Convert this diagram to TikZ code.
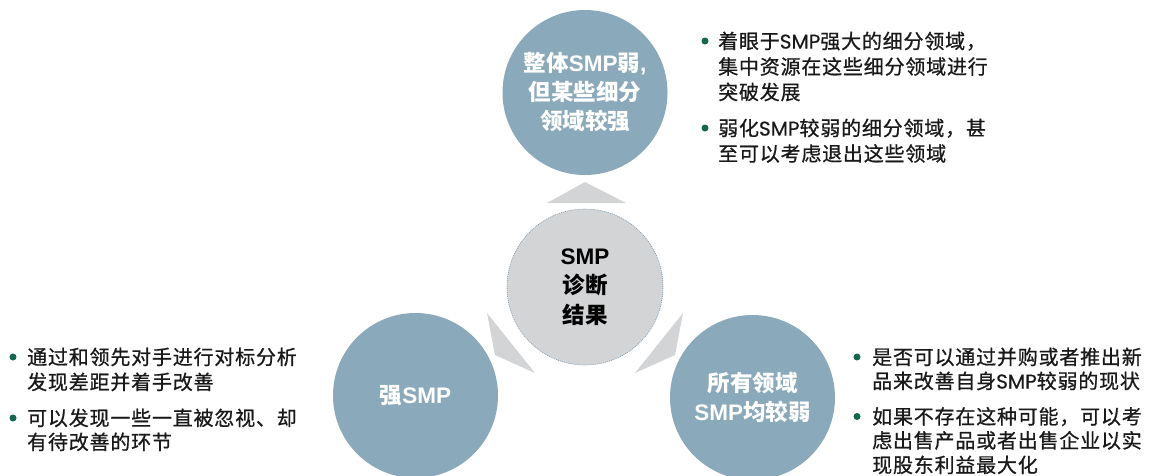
\documentclass[tikz,border=0pt]{standalone}
\usepackage{fontspec}
\setmainfont{Noto Sans CJK SC}
\newfontfamily\txt{Noto Sans CJK SC}[LetterSpace=4,FakeBold=0.8]
\newfontfamily\latr{Poppins}[FakeBold=0.4]
\newfontfamily\latb{Liberation Sans}
\definecolor{bluec}{RGB}{138,169,186}
\definecolor{grayc}{RGB}{211,212,214}
\definecolor{edgec}{RGB}{120,150,172}
\definecolor{dotc}{RGB}{16,104,78}
\definecolor{textc}{RGB}{25,25,25}
\begin{document}
\begin{tikzpicture}[x=1pt,y=-1pt,
  bubble/.style={circle, fill=bluec, minimum size=165pt, inner sep=0pt, text=white,
    font=\bfseries\fontsize{22.5}{29}\selectfont, align=center},
  hub/.style={circle, fill=grayc, draw=edgec, dash pattern=on 1pt off 1pt, line width=0.6pt,
    minimum size=156pt, inner sep=0pt, text=black,
    font=\bfseries\fontsize{22.5}{29.5}\selectfont, align=center},
  tri/.style={fill=grayc},
  txtline/.style={anchor=base west, inner sep=0pt, text=textc, font=\txt\fontsize{20}{24}\selectfont},
  dot/.style={circle, fill=dotc, inner sep=0pt, minimum size=7pt}]
\useasboundingbox (0,0) rectangle (1154,475);

% circles
\node[hub] (hub) at (585,287) {{\latb\bfseries SMP}\\诊断\\结果};
\node[bubble] (top) at (585,92.5) {整体{\latb\bfseries SMP}弱{\latb\bfseries ,}\\但某些细分\\领域较强};
\node[bubble] (left) at (415.5,395.5) {强{\latb\bfseries SMP}};
\node[bubble] (right) at (752.5,397.5) {所有领域\\{\latb\bfseries SMP}均较弱};

% triangles pointing from hub to outer circles
\fill[tri] (585,182) -- (547,203) -- (626,203) -- cycle;
\fill[tri] (487,313) -- (495,355) -- (535,373) -- cycle;
\fill[tri] (683,313) -- (675,355) -- (635,373) -- cycle;

% top-right text
\node[dot] (d1) at (705,41) {};
\node[txtline] (t1) at (718,48.6) {着眼于{\latr SMP}强大的细分领域，};
\node[txtline] (t2) at (718,74.1) {集中资源在这些细分领域进行};
\node[txtline] (t3) at (718,99.6) {突破发展};
\node[dot] (d2) at (705,128) {};
\node[txtline] (t4) at (718,135.6) {弱化{\latr SMP}较弱的细分领域，甚};
\node[txtline] (t5) at (718,161.1) {至可以考虑退出这些领域};

% left text
\node[dot] (d3) at (13,357) {};
\node[txtline] (l1) at (27,364.5) {通过和领先对手进行对标分析};
\node[txtline] (l2) at (27,389.5) {发现差距并着手改善};
\node[dot] (d4) at (13,418) {};
\node[txtline] (l3) at (27,425.5) {可以发现一些一直被忽视、却};
\node[txtline] (l4) at (27,449.5) {有待改善的环节};

% right text
\node[dot] (d5) at (857,357) {};
\node[txtline] (r1) at (872,364.5) {是否可以通过并购或者推出新};
\node[txtline] (r2) at (872,388.5) {品来改善自身{\latr SMP}较弱的现状};
\node[dot] (d6) at (857,416.5) {};
\node[txtline] (r3) at (872,424) {如果不存在这种可能，可以考};
\node[txtline] (r4) at (872,448) {虑出售产品或者出售企业以实};
\node[txtline] (r5) at (872,472.5) {现股东利益最大化};
\end{tikzpicture}
\end{document}
